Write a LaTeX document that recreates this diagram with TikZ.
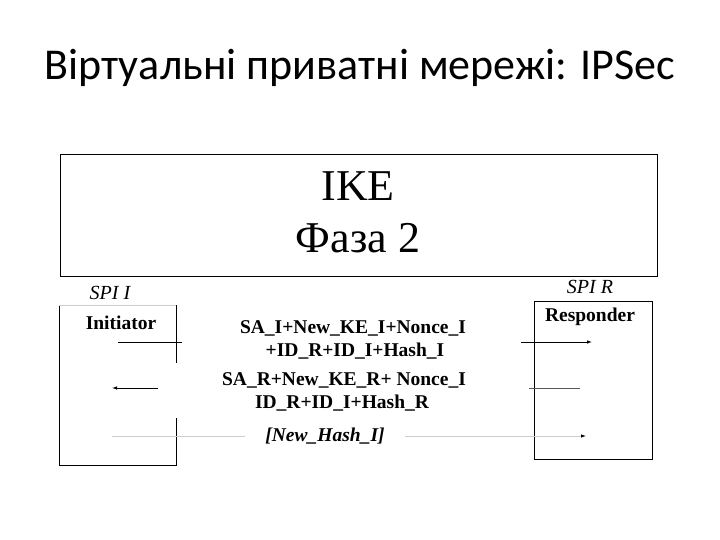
\documentclass[tikz,border=0pt]{standalone}
\usepackage{fontspec}
\setmainfont{Liberation Serif}
\newfontfamily\titlefont{Carlito}
\usetikzlibrary{arrows.meta}
\begin{document}
\begin{tikzpicture}[x=1pt,y=-1pt,
  lbl/.style={font=\fontsize{19.5}{21}\selectfont\bfseries, inner sep=0pt},
  spi/.style={font=\fontsize{20}{22}\selectfont\itshape, inner sep=0pt},
  ent/.style={font=\fontsize{19.5}{21}\selectfont\bfseries, inner sep=0pt},
  msg/.style={line width=0.8pt},
  tip/.style={-{Latex[length=5pt,width=3.5pt]}}]
\useasboundingbox (0,0) rectangle (720,540);
\node[font=\titlefont\fontsize{44}{47}\selectfont, inner sep=0pt] (title) at (360,68) {Віртуальні приватні мережі: IPSec};
% IKE box
\draw[line width=0.8pt] (60,154) rectangle (657,276);
\node[font=\fontsize{44}{48}\selectfont, inner sep=0pt] (ike) at (358,186) {IKE};
\node[font=\fontsize{44}{48}\selectfont, inner sep=0pt] (phase) at (358,238) {Фаза 2};
% Initiator box
\draw[line width=0.8pt] (176,305) -- (176,363);
\draw[line width=0.8pt] (176,418) -- (176,465) -- (59,465) -- (59,305);
\draw[gray!40, line width=0.5pt] (59,305) -- (176,305);
\node[spi] (spii) at (110,293) {SPI I};
\node[ent] (init) at (121,323) {Initiator};
% Responder box
\draw[line width=0.8pt] (534,301) rectangle (652,459);
\node[spi] (spir) at (590,287) {SPI R};
\node[ent] (resp) at (590,317) {Responder};
% messages
\node[lbl] (m1a) at (353,328) {SA\_I+New\_KE\_I+Nonce\_I};
\node[lbl] (m1b) at (355,351) {+ID\_R+ID\_I+Hash\_I};
\node[lbl] (m2a) at (344,380) {SA\_R+New\_KE\_R+ Nonce\_I};
\node[lbl] (m2b) at (342,403) {ID\_R+ID\_I+Hash\_R};
\node[lbl, font=\fontsize{19.5}{21}\selectfont\bfseries\itshape] (m3) at (325,436) {[New\_Hash\_I]};
\coordinate (a1s) at (118,342); \coordinate (a1m) at (182,342);
\coordinate (a1n) at (521,342); \coordinate (a1e) at (592,342);
\draw[msg] (a1s) -- (a1m);
\draw[msg,tip] (a1n) -- (a1e);
\coordinate (a2s) at (580,388); \coordinate (a2m) at (529,388);
\coordinate (a2n) at (158,388); \coordinate (a2e) at (112,388);
\draw[msg,gray!70!black] (a2s) -- (a2m);
\draw[msg,tip] (a2n) -- (a2e);
\coordinate (a3s) at (112,436); \coordinate (a3m) at (245,436);
\coordinate (a3n) at (405,436); \coordinate (a3e) at (586,436);
\draw[gray!40,line width=0.8pt] (a3s) -- (a3m);
\draw[gray!40,line width=0.8pt,-{Latex[length=5pt,width=3.5pt,fill=black,color=black]}] (a3n) -- (a3e);
\end{tikzpicture}
\end{document}
